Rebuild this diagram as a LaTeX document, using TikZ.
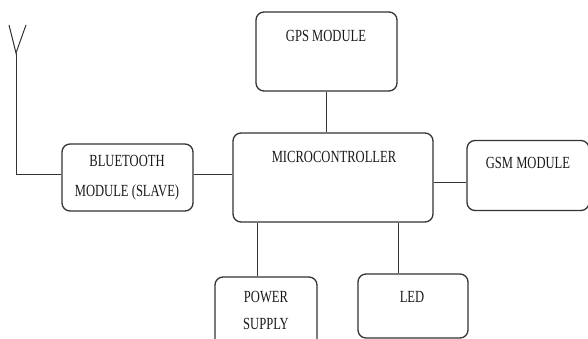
\documentclass[tikz,border=0pt]{standalone}
\usepackage{fontspec}
\setmainfont{Liberation Serif}[FakeStretch=0.74]
\begin{document}
\begin{tikzpicture}[x=1pt,y=-1pt,
  box/.style={draw=black!80, line width=1.3pt, rounded corners=8pt, inner sep=0pt},
  txt/.style={text=black!90, font=\fontsize{17}{17}\selectfont, inner sep=0pt},
  wire/.style={draw=black!80, line width=1pt}]
\useasboundingbox (0,0) rectangle (588,339);
\clip (0,0) rectangle (588,339);
% boxes
\node[box, minimum width=141pt, minimum height=79pt] (gps) at (326.5,51.5) {};
\node[box, minimum width=200pt, minimum height=89pt] (mcu) at (333,177.5) {};
\node[box, minimum width=131pt, minimum height=67pt] (bt) at (127.5,177.5) {};
\node[box, minimum width=122pt, minimum height=70pt] (gsm) at (528,175.5) {};
\node[box, minimum width=102pt, minimum height=75pt] (ps) at (266,314.5) {};
\node[box, minimum width=110pt, minimum height=64pt] (led) at (413,306) {};
% texts
\node[txt] (tgps) at (326,36) {GPS MODULE};
\node[txt] (tmcu) at (334,157) {MICROCONTROLLER};
\node[txt] (tgsm) at (528,163) {GSM MODULE};
\node[txt, align=center, font=\fontsize{17}{30}\selectfont] (tbt) at (127,178) {BLUETOOTH\\MODULE (SLAVE)};
\node[txt, align=center, font=\fontsize{17}{27}\selectfont] (tps) at (266,310.5) {POWER\\SUPPLY};
\node[txt] (tled) at (412,297) {LED};
% connectors
\draw[wire] (gps.south) -- (gps.south |- mcu.north);
\draw[wire] ([yshift=3.5pt]bt.east) -- ([yshift=3.5pt]bt.east -| mcu.west);
\draw[wire] ([yshift=-4.5pt]mcu.east) -- ([yshift=-4.5pt]mcu.east -| gsm.west);
\draw[wire] ([xshift=-9pt]ps.north) -- ([xshift=-9pt]ps.north |- mcu.south);
\draw[wire] ([xshift=-15pt]led.north) -- ([xshift=-15pt]led.north |- mcu.south);
% antenna
\coordinate (corner) at (16,174);
\coordinate (feed) at (16,53);
\coordinate (armL) at (9,25);
\coordinate (armR) at (26,25);
\draw[wire] ([yshift=3.5pt]bt.west) -- (corner) -- (feed);
\draw[wire] (armL) -- (feed) -- (armR);
\end{tikzpicture}
\end{document}
